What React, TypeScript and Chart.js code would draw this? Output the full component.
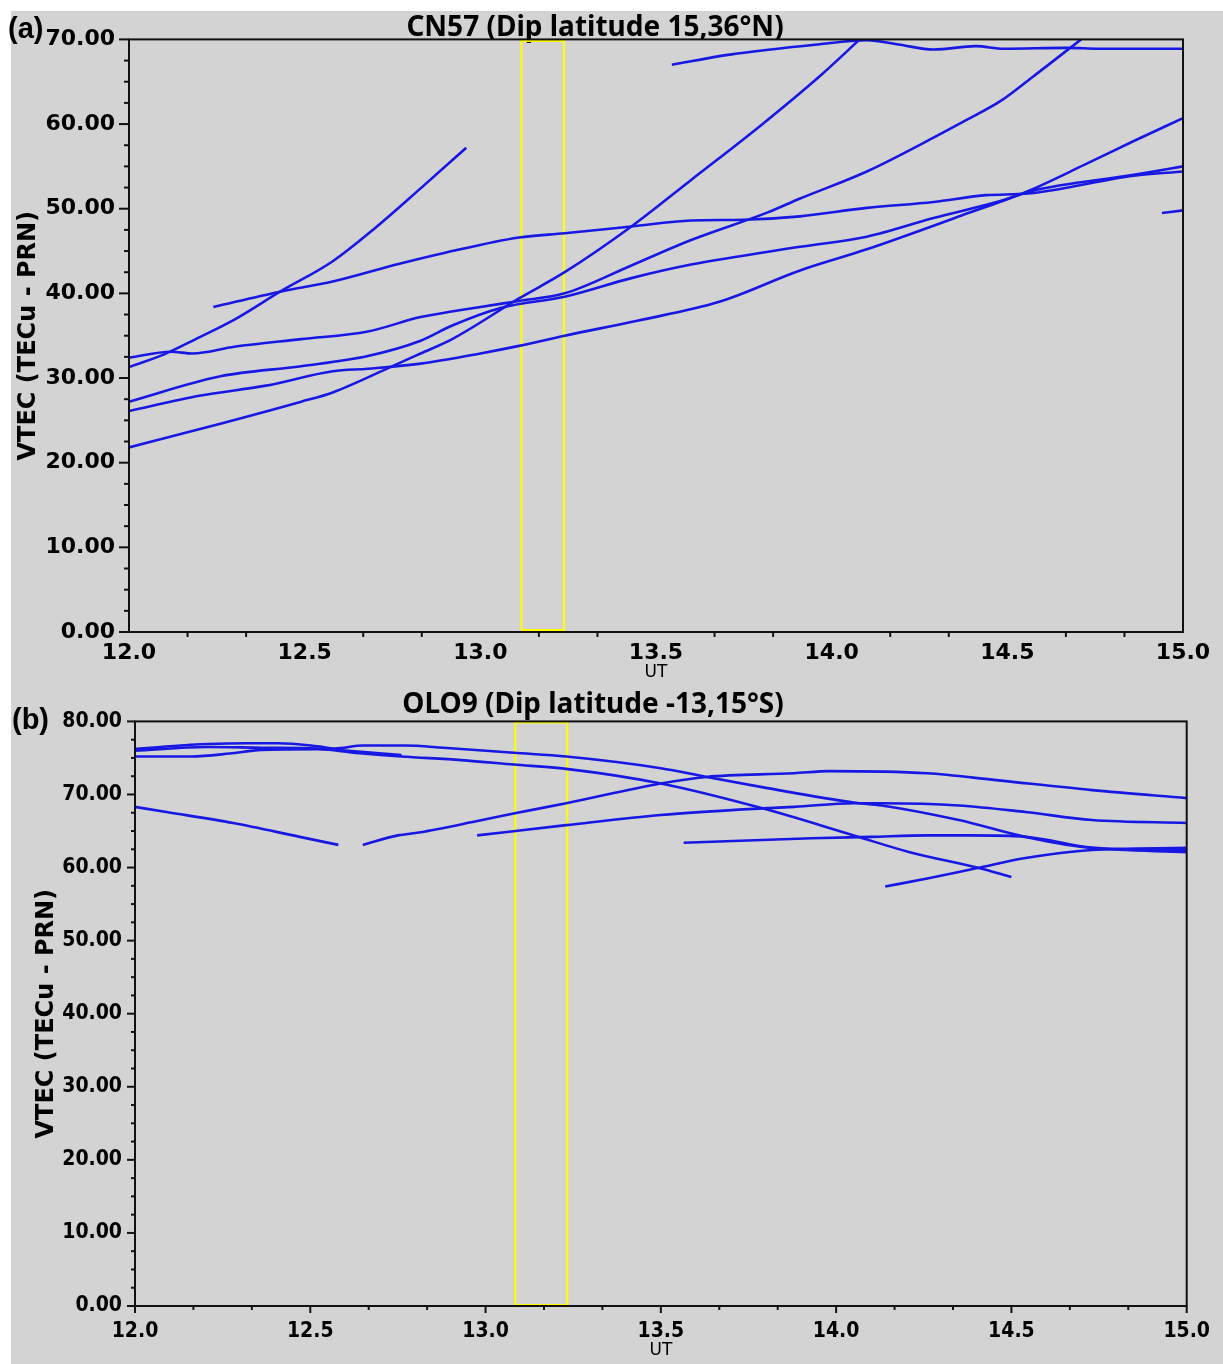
import React, { useEffect, useRef } from 'react';
import { Chart, registerables } from 'chart.js';

Chart.register(...registerables);

type Pt = [number, number];

// ---------------- Panel (a): CN57 ----------------
const cn57Title = 'CN57 (Dip latitude 15,36°N)';
const cn57YMax = 70;
const cn57SatA: Pt[] = [[12.0,31.3],[12.1,32.8],[12.19,34.6],[12.3,36.9],[12.43,40.2],[12.58,43.8],[12.7,47.7],[12.83,52.4],[12.96,57.2]];
const cn57SatB: Pt[] = [[12.24,38.4],[12.43,40.2],[12.58,41.4],[12.77,43.5],[12.9,44.8],[13.11,46.6],[13.24,47.1],[13.43,47.9],[13.6,48.6],[13.75,48.7],[13.91,49.1],[14.1,50.1],[14.29,50.8],[14.44,51.6],[14.56,51.8],[14.86,53.9],[15.0,54.4]];
const cn57SatC: Pt[] = [[12.0,32.4],[12.12,33.1],[12.18,32.9],[12.3,33.7],[12.49,34.6],[12.68,35.5],[12.83,37.2],[13.0,38.4],[13.11,39.1],[13.24,40.0],[13.43,43.3],[13.6,46.3],[13.82,49.6],[13.91,51.2],[14.1,54.4],[14.29,58.4],[14.38,60.4],[14.48,62.7],[14.57,65.5],[14.71,70.0]];
const cn57SatD: Pt[] = [[12.0,27.2],[12.26,30.2],[12.49,31.4],[12.68,32.6],[12.83,34.4],[12.92,36.2],[13.06,38.3],[13.24,39.6],[13.43,41.8],[13.6,43.4],[13.91,45.5],[14.1,46.7],[14.29,48.9],[14.48,50.9],[14.57,52.1],[14.86,54.0],[15.0,55.0]];
const cn57SatE: Pt[] = [[12.0,26.1],[12.2,27.9],[12.39,29.1],[12.58,30.8],[12.68,31.1],[12.83,31.7],[13.0,32.9],[13.11,33.8],[13.24,35.0],[13.45,36.8],[13.68,39.0],[13.91,42.7],[14.1,45.2],[14.37,49.2],[14.56,52.1],[14.72,55.2],[14.86,58.0],[15.0,60.7]];
const cn57SatF: Pt[] = [[12.0,21.8],[12.26,24.6],[12.49,27.2],[12.58,28.3],[12.75,31.4],[12.83,32.9],[12.92,34.6],[13.11,39.4],[13.24,42.5],[13.43,47.9],[13.6,53.4],[13.8,59.9],[13.97,65.8],[14.08,70.0]];
const cn57SatG: Pt[] = [[13.545,67.0],[13.71,68.2],[13.96,69.4],[14.1,69.9],[14.19,69.4],[14.29,68.8],[14.41,69.2],[14.49,68.9],[14.67,69.0],[14.76,68.9],[15.0,68.9]];
const cn57SatH: Pt[] = [[14.94,49.5],[15.0,49.8]];
const cn57Window: Pt[] = [[13.117,0.25],[13.117,69.8],[13.238,69.8],[13.238,0.25],[13.117,0.25]];

// ---------------- Panel (b): OLO9 ----------------
const olo9Title = 'OLO9 (Dip latitude -13,15°S)';
const olo9YMax = 80;
const olo9SatA: Pt[] = [[12.0,76.2],[12.1,76.6],[12.21,76.9],[12.32,77.0],[12.41,77.0],[12.52,76.6],[12.57,76.3],[12.65,76.7],[12.77,76.7],[12.88,76.4],[13.08,75.7],[13.23,75.2],[13.5,73.6],[13.63,72.4],[13.8,70.9],[14.05,68.9],[14.13,68.5],[14.35,66.5],[14.54,64.2],[14.73,62.7],[15.0,62.4]];
const olo9SatB: Pt[] = [[12.0,76.0],[12.21,76.5],[12.36,76.4],[12.52,76.3],[12.6,76.0],[12.76,75.4]];
const olo9SatC: Pt[] = [[12.0,75.2],[12.16,75.2],[12.27,75.6],[12.36,76.1],[12.52,76.2],[12.65,75.6],[12.76,75.2],[12.93,74.7],[13.08,74.1],[13.23,73.5],[13.5,71.5],[13.79,68.1],[14.05,64.4],[14.21,62.1],[14.41,59.9],[14.5,58.7]];
const olo9SatD: Pt[] = [[12.0,68.3],[12.09,67.6],[12.28,66.1],[12.47,64.2],[12.58,63.1]];
const olo9SatE: Pt[] = [[12.65,63.1],[12.75,64.4],[12.81,64.8],[12.97,66.3],[13.08,67.4],[13.23,68.8],[13.5,71.5],[13.63,72.4],[13.88,72.9],[13.98,73.2],[14.26,72.9],[14.45,72.0],[14.73,70.6],[15.0,69.5]];
const olo9SatF: Pt[] = [[12.976,64.4],[13.23,65.8],[13.5,67.2],[13.79,68.1],[13.88,68.3],[14.05,68.8],[14.13,68.8],[14.35,68.5],[14.54,67.6],[14.73,66.5],[15.0,66.1]];
const olo9SatG: Pt[] = [[13.565,63.4],[13.93,64.0],[14.1,64.2],[14.26,64.4],[14.38,64.4],[14.54,64.2],[14.73,62.7],[15.0,62.1]];
const olo9SatH: Pt[] = [[14.14,57.4],[14.26,58.5],[14.4,59.9],[14.54,61.3],[14.73,62.4],[15.0,62.7]];
const olo9Window: Pt[] = [[13.085,0.15],[13.085,79.85],[13.233,79.85],[13.233,0.15],[13.085,0.15]];

// shared axis values
const xMin = 12;
const xMax = 15;
const xStep = 0.5;
const yStep = 10;
const xTitle = 'UT';
const yTitle = 'VTEC (TECu - PRN)';

const traceColor = '#1818e4';
const windowColor = '#ffff00';

interface PanelCfg {
  left: number; top: number; width: number; height: number;
  padRight: number; yAxisWidth: number; xAxisHeight: number;
  title: string; titlePadTop: number; titlePadBottom: number;
  yMax: number; series: Pt[][]; win: Pt[];
  tickFont: string; tickSize: number; xTickPad: number; yTickPad: number;
  yTitlePad: number;
  yMajorLen: number; yMinorLen: number; xMajorLen: number; xMinorLen: number;
}

const ticksPlugin = (cfg: PanelCfg) => ({
  id: 'frameTicks',
  afterDatasetsDraw(chart: any) {
    const { ctx, chartArea, scales } = chart;
    const { left, right, top, bottom } = chartArea;
    const x = scales.x, y = scales.y;
    ctx.save();
    ctx.strokeStyle = '#111';
    ctx.lineWidth = 2;
    ctx.strokeRect(left, top, right - left, bottom - top);
    for (let i = 0; i <= cfg.yMax / 2.5; i++) {
      const py = y.getPixelForValue(i * 2.5);
      const len = i % 4 === 0 ? cfg.yMajorLen : cfg.yMinorLen;
      ctx.beginPath();
      ctx.moveTo(left - len, py);
      ctx.lineTo(left, py);
      ctx.stroke();
    }
    for (let k = 0; k <= (xMax - xMin) * 6; k++) {
      const px = x.getPixelForValue(xMin + k / 6);
      const len = k % 3 === 0 ? cfg.xMajorLen : cfg.xMinorLen;
      if (len <= 0) continue;
      ctx.beginPath();
      ctx.moveTo(px, bottom);
      ctx.lineTo(px, bottom + len);
      ctx.stroke();
    }
    ctx.restore();
  },
});

function Panel({ cfg }: { cfg: PanelCfg }) {
  const ref = useRef<HTMLCanvasElement>(null);
  useEffect(() => {
    const tickFont = { family: cfg.tickFont, size: cfg.tickSize, weight: 'bold' as const };
    const datasets: any[] = cfg.series.map((s) => ({
      data: s.map(([t, v]) => ({ x: t, y: v })),
      borderColor: traceColor,
      backgroundColor: traceColor,
      borderWidth: 2.6,
      pointRadius: 0,
      cubicInterpolationMode: 'monotone',
      fill: false,
    }));
    datasets.push({
      data: cfg.win.map(([t, v]) => ({ x: t, y: v })),
      borderColor: windowColor,
      borderWidth: 2,
      pointRadius: 0,
      tension: 0,
      fill: false,
    });
    const chart = new Chart(ref.current as HTMLCanvasElement, {
      type: 'line',
      data: { datasets },
      options: {
        responsive: false,
        animation: false,
        devicePixelRatio: 1,
        layout: { padding: { left: 0, right: cfg.padRight, top: 0, bottom: 0 } },
        plugins: {
          legend: { display: false },
          tooltip: { enabled: false },
          title: {
            display: true,
            text: cfg.title,
            color: '#000',
            font: { family: "'Noto Sans', 'Open Sans', sans-serif", size: 28, weight: 'bold', lineHeight: 0.8 },
            padding: { top: cfg.titlePadTop, bottom: cfg.titlePadBottom },
          },
        },
        scales: {
          x: {
            type: 'linear',
            min: xMin,
            max: xMax,
            ticks: {
              stepSize: xStep,
              autoSkip: false,
              maxRotation: 0,
              color: '#000',
              font: { ...tickFont },
              padding: cfg.xTickPad,
              callback: (v: any) => Number(v).toFixed(1),
            },
            grid: { display: false, drawTicks: false },
            border: { display: false },
            title: {
              display: true,
              text: xTitle,
              color: '#000',
              font: { family: "'DejaVu Sans', sans-serif", size: 17 },
              padding: { top: 0, bottom: 1 },
            },
            afterFit: (s: any) => { s.height = cfg.xAxisHeight; },
          },
          y: {
            type: 'linear',
            min: 0,
            max: cfg.yMax,
            ticks: {
              stepSize: yStep,
              color: '#000',
              font: { ...tickFont },
              padding: cfg.yTickPad,
              callback: (v: any) => Number(v).toFixed(2),
            },
            grid: { display: false, drawTicks: false },
            border: { display: false },
            title: {
              display: true,
              text: yTitle,
              color: '#000',
              font: { family: "'DejaVu Sans', sans-serif", size: 24, weight: 'bold' },
              padding: { top: cfg.yTitlePad, bottom: 0 },
            },
            afterFit: (s: any) => { s.width = cfg.yAxisWidth; },
          },
        },
      } as any,
      plugins: [ticksPlugin(cfg)],
    });
    return () => chart.destroy();
  }, []);
  return (
    <canvas
      ref={ref}
      width={cfg.width}
      height={cfg.height}
      style={{ position: 'absolute', left: cfg.left, top: cfg.top, width: cfg.width, height: cfg.height }}
    />
  );
}

const panelA: PanelCfg = {
  left: 7, top: 11, width: 1212, height: 673, padRight: 36, yAxisWidth: 122, xAxisHeight: 52,
  title: cn57Title, titlePadTop: 6, titlePadBottom: 0,
  yMax: cn57YMax,
  series: [cn57SatA, cn57SatB, cn57SatC, cn57SatD, cn57SatE, cn57SatF, cn57SatG, cn57SatH],
  win: cn57Window,
  tickFont: "'DejaVu Sans', sans-serif", tickSize: 22, xTickPad: 8, yTickPad: 14, yTitlePad: 7,
  yMajorLen: 10, yMinorLen: 5, xMajorLen: 0, xMinorLen: 5,
};

const panelB: PanelCfg = {
  left: -9, top: 689, width: 1232, height: 673, padRight: 28, yAxisWidth: 144, xAxisHeight: 56,
  title: olo9Title, titlePadTop: 5, titlePadBottom: 5,
  yMax: olo9YMax,
  series: [olo9SatA, olo9SatB, olo9SatC, olo9SatD, olo9SatE, olo9SatF, olo9SatG, olo9SatH],
  win: olo9Window,
  tickFont: "'DejaVu Sans Condensed', 'DejaVu Sans', sans-serif", tickSize: 21, xTickPad: 13, yTickPad: 13, yTitlePad: 41,
  yMajorLen: 8, yMinorLen: 4, xMajorLen: 7, xMinorLen: 4,
};

const labelStyle: React.CSSProperties = {
  position: 'absolute',
  font: "bold 29px 'Liberation Sans', Arial, sans-serif",
  lineHeight: '29px',
  color: '#000',
  whiteSpace: 'nowrap',
};

export default function App() {
  return (
    <div style={{ position: 'absolute', left: 0, top: 0, width: 1223, height: 1364, overflow: 'hidden', background: '#fff' }}>
      <div style={{ position: 'absolute', left: 11, top: 11, right: 0, bottom: 0, background: '#d3d3d3' }} />
      <Panel cfg={panelA} />
      <Panel cfg={panelB} />
      <div style={{ ...labelStyle, left: 8, top: 14 }}>(a)</div>
      <div style={{ ...labelStyle, left: 12, top: 705 }}>(b)</div>
    </div>
  );
}
